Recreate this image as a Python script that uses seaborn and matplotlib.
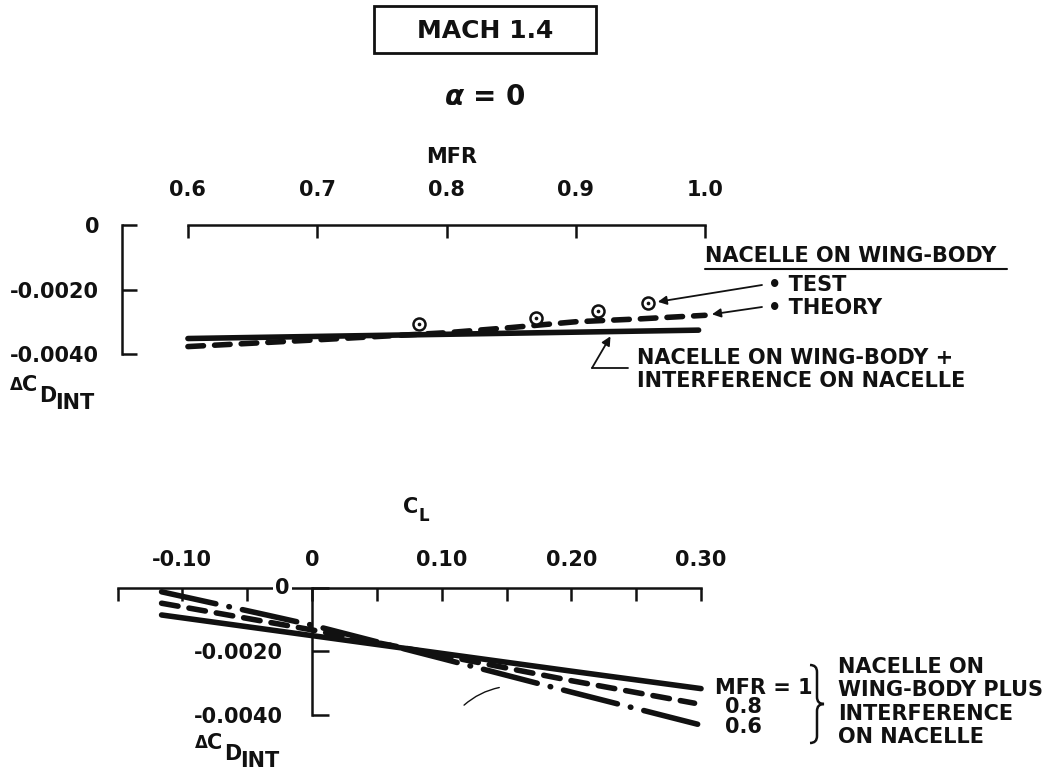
import matplotlib
matplotlib.use("Agg")
import matplotlib.pyplot as plt
from matplotlib.lines import Line2D
from matplotlib.patches import Rectangle, PathPatch
from matplotlib.path import Path
import seaborn as sns
import numpy as np

W, H = 1058, 771

# oberes Diagramm: Interferenzwiderstand ueber MFR
mfr_solid = [0.6, 0.995]
cd_solid = [-0.00352, -0.00326]
mfr_theory = [0.6, 0.7, 0.8, 0.85, 0.9, 0.95, 1.0]
cd_theory = [-0.00377, -0.00356, -0.00334, -0.00318, -0.00300, -0.00291, -0.00280]
mfr_test = [0.779, 0.869, 0.917, 0.956]
cd_test = [-0.00307, -0.00288, -0.00266, -0.00243]
mfr_ticks = [0.6, 0.7, 0.8, 0.9, 1.0]
mfr_ticklabels = ["0.6", "0.7", "0.8", "0.9", "1.0"]
cd_ticks = [0, -0.002, -0.004]
cd_ticklabels = ["0", "-0.0020", "-0.0040"]

# unteres Diagramm: ueber CL, je MFR
cl_mfr1 = [-0.116, 0, 0.1, 0.2, 0.3]
cd_mfr1 = [-0.00085, -0.00150, -0.00206, -0.00262, -0.00317]
cl_mfr08 = [-0.116, 0, 0.1, 0.2, 0.295]
cd_mfr08 = [-0.00048, -0.00132, -0.00212, -0.00292, -0.00363]
cl_mfr06 = [-0.116, -0.035, 0, 0.1, 0.2, 0.3]
cd_mfr06 = [-0.00012, -0.00085, -0.00117, -0.00222, -0.00328, -0.00432]
cl_ticks = [-0.10, 0, 0.10, 0.20, 0.30]
cl_ticklabels = ["-0.10", "0", "0.10", "0.20", "0.30"]
cl_minor = [-0.15, -0.05, 0.05, 0.15, 0.25]

sns.set_style("white")
plt.rcParams['font.family'] = ['DejaVu Sans']
plt.rcParams['font.weight'] = 'bold'

INK = '#111111'
FS = 15
LW = 4.0


def fp(px, py):
    # Pixel (von oben links) -> Figure-Koordinaten
    return (px / W, 1 - py / H)


fig = plt.figure(figsize=(W / 100, H / 100), dpi=100)

# ---------- oberes Diagramm ----------
ax1 = fig.add_axes([122 / W, 1 - 354 / H, 596 / W, 129 / H])
ax1.set_xlim(0.549, 1.01)
ax1.set_ylim(-0.004, 0)

sns.lineplot(x=mfr_solid, y=cd_solid, ax=ax1, color=INK, lw=LW,
             solid_capstyle='round', estimator=None)
sns.lineplot(x=mfr_theory, y=cd_theory, ax=ax1, color=INK, lw=LW,
             linestyle=(0, (2.8, 2.0)), dash_capstyle='round', estimator=None)
sns.scatterplot(x=mfr_test, y=cd_test, ax=ax1, marker='o', s=75,
                facecolor='white', edgecolor=INK, linewidth=1.8, zorder=5)
sns.scatterplot(x=mfr_test, y=cd_test, ax=ax1, marker='o', s=7,
                color=INK, linewidth=0, zorder=6)

for s in ['right', 'bottom']:
    ax1.spines[s].set_visible(False)
ax1.spines['top'].set_bounds(0.6, 1.0)
ax1.spines['left'].set_bounds(-0.004, 0)
for s in ['top', 'left']:
    ax1.spines[s].set_linewidth(1.8)
    ax1.spines[s].set_color(INK)

ax1.xaxis.tick_top()
ax1.set_xticks(mfr_ticks)
ax1.set_xticklabels(mfr_ticklabels)
ax1.set_yticks(cd_ticks)
ax1.set_yticklabels(cd_ticklabels)
ax1.tick_params(axis='x', direction='in', length=9, width=1.8, pad=18,
                labelsize=FS, colors=INK, top=True, bottom=False)
ax1.tick_params(axis='y', direction='in', length=11, width=1.8, pad=16.5,
                labelsize=FS, colors=INK, left=True, right=False)
ax1.set_xlabel('')
ax1.set_ylabel('')

# ---------- unteres Diagramm ----------
ax2 = fig.add_axes([117.5 / W, 1 - 734 / H, 596.5 / W, 146 / H])
ax2.set_xlim(-0.15, 0.31)
ax2.set_ylim(-0.0046, 0)

sns.lineplot(x=cl_mfr1, y=cd_mfr1, ax=ax2, color=INK, lw=LW,
             solid_capstyle='round', estimator=None)
sns.lineplot(x=cl_mfr08, y=cd_mfr08, ax=ax2, color=INK, lw=LW,
             linestyle=(0, (3.0, 2.0)), dash_capstyle='round', estimator=None)
sns.lineplot(x=cl_mfr06, y=cd_mfr06, ax=ax2, color=INK, lw=LW,
             linestyle=(0, (10, 2.4, 0.1, 2.4)), dash_capstyle='round',
             estimator=None)

for s in ['right', 'bottom']:
    ax2.spines[s].set_visible(False)
ax2.spines['left'].set_position(('data', 0))
ax2.spines['left'].set_bounds(-0.004, 0)
ax2.spines['top'].set_bounds(-0.15, 0.30)
for s in ['top', 'left']:
    ax2.spines[s].set_linewidth(1.8)
    ax2.spines[s].set_color(INK)

ax2.xaxis.tick_top()
ax2.set_xticks(cl_ticks)
ax2.set_xticklabels(cl_ticklabels)
ax2.set_xticks(cl_minor, minor=True)
ax2.set_yticks(cd_ticks)
ax2.set_yticklabels([''] + cd_ticklabels[1:])
ax2.tick_params(axis='x', which='both', direction='in', length=9, width=1.8,
                pad=13, labelsize=FS, colors=INK, top=True, bottom=False)
ax2.tick_params(axis='y', direction='in', length=12, width=1.8, pad=21,
                labelsize=FS, colors=INK, left=True, right=False)
ax2.set_xlabel('')
ax2.set_ylabel('')
# "0" sitzt auf der Achslinie
ax2.annotate("0", xy=(0, 0), xytext=(-16, 0), textcoords='offset points',
             ha='right', va='center', fontsize=FS, color=INK, zorder=10,
             bbox=dict(facecolor='white', edgecolor='none', pad=1.5),
             annotation_clip=False)

# ---------- Titel ----------
x0, y0 = fp(374, 53)
fig.patches.append(Rectangle((x0, y0), 222 / W, 47 / H, transform=fig.transFigure,
                             fill=False, lw=2, edgecolor=INK))
fig.text(*fp(485, 31), "MACH 1.4", fontsize=18, ha='center', va='center', color=INK)
fig.text(*fp(485, 97), r"$\alpha$ = 0", fontsize=20, ha='center', va='center', color=INK)

# Achsentitel
fig.text(*fp(452, 157), "MFR", fontsize=FS, ha='center', va='center', color=INK)
fig.text(*fp(403, 507), "C", fontsize=FS, ha='left', va='center', color=INK)
fig.text(*fp(419, 516), "L", fontsize=12, ha='left', va='center', color=INK)


def cd_int_label(px, py):
    fig.text(*fp(px, py), "\u0394", fontsize=12, ha='left', va='center', color=INK)
    fig.text(*fp(px + 12, py), "C", fontsize=FS, ha='left', va='center', color=INK)
    fig.text(*fp(px + 29, py + 11), "D", fontsize=FS, ha='left', va='center', color=INK)
    fig.text(*fp(px + 45, py + 18), "INT", fontsize=FS, ha='left', va='center', color=INK)


cd_int_label(10, 385)
cd_int_label(195, 743)

# ---------- Beschriftungen oben ----------
fig.text(*fp(705, 256), "NACELLE ON WING-BODY", fontsize=FS, ha='left', va='center', color=INK)
fig.lines.append(Line2D([705 / W, 1007 / W], [1 - 269 / H, 1 - 269 / H],
                        transform=fig.transFigure, color=INK, lw=1.5))
fig.text(*fp(768, 285), "\u2022 TEST", fontsize=FS, ha='left', va='center', color=INK)
fig.text(*fp(768, 308), "\u2022 THEORY", fontsize=FS, ha='left', va='center', color=INK)
fig.text(*fp(637, 358), "NACELLE ON WING-BODY +", fontsize=FS, ha='left', va='center', color=INK)
fig.text(*fp(637, 381), "INTERFERENCE ON NACELLE", fontsize=FS, ha='left', va='center', color=INK)

arrow = dict(arrowstyle='-|>', color=INK, lw=1.3, mutation_scale=13, shrinkA=0)
ax1.annotate("", xy=(mfr_test[3], cd_test[3]), xytext=fp(762, 285),
             textcoords='figure fraction', arrowprops=dict(arrow, shrinkB=7))
ax1.annotate("", xy=(mfr_theory[-1], cd_theory[-1]), xytext=fp(762, 307),
             textcoords='figure fraction', arrowprops=dict(arrow, shrinkB=5))
x_lead = 0.929
ax1.annotate("", xy=(x_lead, np.interp(x_lead, mfr_solid, cd_solid)),
             xytext=fp(592, 368), textcoords='figure fraction',
             arrowprops=dict(arrow, shrinkB=4))
fig.lines.append(Line2D([592 / W, 628 / W], [1 - 368 / H, 1 - 368 / H],
                        transform=fig.transFigure, color=INK, lw=1.3))

# ---------- Beschriftungen unten ----------
fig.text(*fp(715, 688), "MFR = 1", fontsize=FS, ha='left', va='center', color=INK)
fig.text(*fp(743, 707), "0.8", fontsize=FS, ha='center', va='center', color=INK)
fig.text(*fp(743, 727), "0.6", fontsize=FS, ha='center', va='center', color=INK)
fig.text(*fp(838, 702), "NACELLE ON\nWING-BODY PLUS\nINTERFERENCE\nON NACELLE",
         fontsize=FS, ha='left', va='center', linespacing=1.2, color=INK)

# geschweifte Klammer
brace_px = [(810, 665), (817, 665), (817, 672), (817, 697), (817, 704), (824, 704),
            (817, 704), (817, 711), (817, 736), (817, 743), (810, 743)]
codes = [Path.MOVETO, Path.CURVE3, Path.CURVE3, Path.LINETO, Path.CURVE3, Path.CURVE3,
         Path.CURVE3, Path.CURVE3, Path.LINETO, Path.CURVE3, Path.CURVE3]
brace = Path([fp(px, py) for px, py in brace_px], codes)
fig.patches.append(PathPatch(brace, transform=fig.transFigure, fill=False,
                             lw=1.8, edgecolor=INK))

# duenne Hilfslinie im unteren Bild
ax2.annotate("", xy=fp(502, 687), xytext=fp(462, 707), xycoords='figure fraction',
             textcoords='figure fraction',
             arrowprops=dict(arrowstyle='-', color=INK, lw=1.0,
                             connectionstyle='arc3,rad=-0.15'))

fig.savefig("out.png", dpi=100)
